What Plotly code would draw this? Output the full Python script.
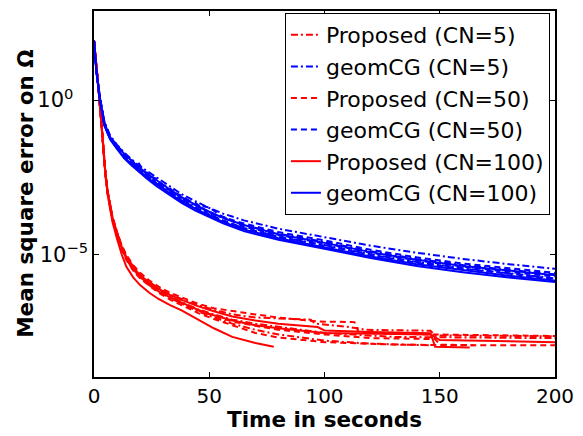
import plotly.graph_objects as go

# ---------------- data (log10 of mean square error) ----------------
BT = [0, 1, 2.5, 4.5, 7, 10, 13, 16, 19, 23, 27, 32, 38, 44, 50, 56, 65, 80, 100, 120, 140, 160, 180, 200]

geom_cn5_a = [1.93, 1.0, 0.12, -0.7, -1.15, -1.45, -1.7, -1.9, -2.1, -2.3, -2.5, -2.75, -3.05, -3.28, -3.5, -3.68, -3.9, -4.17, -4.45, -4.72, -4.95, -5.15, -5.32, -5.47]
geom_cn5_b = [1.93, 1.0, 0.1, -0.75, -1.2, -1.5, -1.75, -1.95, -2.2, -2.45, -2.65, -2.9, -3.2, -3.42, -3.63, -3.83, -4.05, -4.33, -4.6, -4.9, -5.15, -5.35, -5.5, -5.65]
geom_cn5_c = [1.93, 0.95, 0.05, -0.8, -1.25, -1.55, -1.8, -2.0, -2.2, -2.5, -2.7, -2.95, -3.25, -3.48, -3.72, -3.92, -4.15, -4.43, -4.7, -5.0, -5.25, -5.45, -5.62, -5.78]
geom_cn50_a = [1.93, 1.0, 0.1, -0.72, -1.18, -1.48, -1.7, -2.05, -2.0, -2.45, -2.55, -2.9, -3.1, -3.4, -3.48, -3.8, -4.0, -4.28, -4.55, -4.85, -5.1, -5.3, -5.45, -5.6]
geom_cn50_b = [1.93, 1.0, 0.08, -0.78, -1.22, -1.52, -1.78, -1.9, -2.25, -2.35, -2.7, -2.8, -3.2, -3.33, -3.68, -3.78, -4.1, -4.38, -4.65, -4.95, -5.2, -5.4, -5.57, -5.72]
geom_cn50_c = [1.93, 0.98, 0.06, -0.8, -1.25, -1.55, -1.82, -2.0, -2.2, -2.5, -2.7, -2.95, -3.25, -3.5, -3.7, -3.9, -4.15, -4.43, -4.72, -5.02, -5.27, -5.47, -5.63, -5.8]
geom_cn100_a = [1.93, 1.0, 0.1, -0.74, -1.2, -1.5, -1.73, -1.95, -2.15, -2.38, -2.6, -2.85, -3.15, -3.4, -3.62, -3.82, -4.05, -4.35, -4.63, -4.93, -5.18, -5.38, -5.53, -5.68]
geom_cn100_b = [1.93, 0.97, 0.05, -0.8, -1.25, -1.58, -1.85, -2.05, -2.25, -2.5, -2.72, -2.98, -3.28, -3.52, -3.75, -3.95, -4.2, -4.48, -4.77, -5.07, -5.32, -5.52, -5.7, -5.85]
geom_cn100_c = [1.93, 0.95, 0.02, -0.83, -1.28, -1.6, -1.88, -2.1, -2.3, -2.55, -2.78, -3.03, -3.33, -3.58, -3.8, -4.0, -4.25, -4.53, -4.82, -5.12, -5.38, -5.58, -5.75, -5.9]

RT = [0, 1, 2, 3, 4, 5, 6, 8, 10, 12, 14, 17, 20, 24, 28, 33, 38, 45, 52, 60]

prop_cn5_a_t = RT + [70, 80, 94, 96, 110, 118, 146, 148, 200]
prop_cn5_a = [1.93, 1.2, 0.35, -0.55, -1.6, -2.4, -3.0, -3.8, -4.3, -4.72, -5.05, -5.4, -5.65, -5.9, -6.1, -6.3, -6.45, -6.65, -6.8, -6.95,
              -7.05, -7.08, -7.12, -7.25, -7.35, -7.45, -7.48, -7.63, -7.66]
prop_cn5_b_t = RT + [70, 80, 100, 120, 146]
prop_cn5_b = [1.93, 1.18, 0.33, -0.58, -1.62, -2.42, -3.05, -3.85, -4.35, -4.8, -5.15, -5.5, -5.75, -6.0, -6.2, -6.42, -6.6, -6.85, -7.05, -7.25,
              -7.45, -7.6, -7.8, -7.9, -7.95]
prop_cn5_c_t = RT + [70, 80, 100, 130, 160, 200]
prop_cn5_c = [1.93, 1.2, 0.34, -0.56, -1.6, -2.4, -3.02, -3.82, -4.32, -4.77, -5.12, -5.47, -5.72, -5.97, -6.17, -6.38, -6.55, -6.78, -6.95, -7.12,
              -7.25, -7.35, -7.55, -7.68, -7.7, -7.72]
prop_cn50_a_t = RT + [70, 80, 97, 113, 115, 146, 200]
prop_cn50_a = [1.93, 1.22, 0.37, -0.52, -1.58, -2.38, -2.98, -3.78, -4.28, -4.7, -5.02, -5.35, -5.6, -5.85, -6.05, -6.25, -6.4, -6.6, -6.75, -6.85,
               -6.95, -7.05, -7.18, -7.2, -7.55, -7.6, -7.65]
prop_cn50_b_t = RT + [70, 80, 100, 130, 160, 200]
prop_cn50_b = [1.93, 1.17, 0.32, -0.6, -1.65, -2.45, -3.08, -3.88, -4.38, -4.83, -5.18, -5.53, -5.78, -6.03, -6.25, -6.47, -6.65, -6.9, -7.1, -7.3,
               -7.55, -7.7, -7.85, -7.93, -7.95, -7.95]
prop_cn50_c_t = RT + [70, 80, 100, 120, 148, 150, 165]
prop_cn50_c = [1.93, 1.19, 0.34, -0.57, -1.61, -2.41, -3.03, -3.83, -4.33, -4.78, -5.13, -5.48, -5.73, -5.98, -6.18, -6.4, -6.58, -6.82, -7.0, -7.18,
               -7.32, -7.45, -7.6, -7.72, -7.75, -7.93, -7.95]
prop_cn100_a_t = RT + [70, 78]
prop_cn100_a = [1.93, 1.18, 0.32, -0.6, -1.66, -2.48, -3.1, -3.95, -4.5, -5.0, -5.4, -5.75, -6.0, -6.25, -6.45, -6.65, -6.82, -7.1, -7.4, -7.68,
                -7.88, -8.0]
prop_cn100_b_t = RT + [70, 80, 97, 100, 120, 146, 148, 163]
prop_cn100_b = [1.93, 1.2, 0.35, -0.55, -1.6, -2.4, -3.0, -3.8, -4.3, -4.75, -5.08, -5.42, -5.68, -5.92, -6.12, -6.32, -6.48, -6.68, -6.85, -7.02,
                -7.15, -7.25, -7.36, -7.47, -7.52, -7.56, -8.0, -8.02]
prop_cn100_c_t = RT + [70, 80, 100, 146, 150, 200]
prop_cn100_c = [1.93, 1.19, 0.34, -0.57, -1.62, -2.43, -3.04, -3.84, -4.34, -4.79, -5.14, -5.49, -5.74, -5.99, -6.2, -6.4, -6.57, -6.8, -6.98, -7.15,
                -7.3, -7.4, -7.55, -7.6, -7.78, -7.85]

legend_names = ["Proposed (CN=5)", "geomCG (CN=5)", "Proposed (CN=50)",
                "geomCG (CN=50)", "Proposed (CN=100)", "geomCG (CN=100)"]
x_ticks = [0, 50, 100, 150, 200]
y_ticks = [1, 1e-5]
y_ticktext = ["10<sup>0\u2002\u2002</sup>", "10<sup>\u22125</sup>"]

# ---------------- figure ----------------
RED, BLUE = "#ff0000", "#0000ff"
DASHDOT = "7px,3px,2px,3px"
DASH = "6px,4px"

groups = [
    (legend_names[0], RED, DASHDOT, [(prop_cn5_a_t, prop_cn5_a), (prop_cn5_b_t, prop_cn5_b), (prop_cn5_c_t, prop_cn5_c)]),
    (legend_names[1], BLUE, DASHDOT, [(BT, geom_cn5_a), (BT, geom_cn5_b), (BT, geom_cn5_c)]),
    (legend_names[2], RED, DASH, [(prop_cn50_a_t, prop_cn50_a), (prop_cn50_b_t, prop_cn50_b), (prop_cn50_c_t, prop_cn50_c)]),
    (legend_names[3], BLUE, DASH, [(BT, geom_cn50_a), (BT, geom_cn50_b), (BT, geom_cn50_c)]),
    (legend_names[4], RED, "solid", [(prop_cn100_a_t, prop_cn100_a), (prop_cn100_b_t, prop_cn100_b), (prop_cn100_c_t, prop_cn100_c)]),
    (legend_names[5], BLUE, "solid", [(BT, geom_cn100_a), (BT, geom_cn100_b), (BT, geom_cn100_c)]),
]

fig = go.Figure()
for gi, (name, color, dash, runs) in enumerate(groups):
    for ri, (t, lv) in enumerate(runs):
        fig.add_trace(go.Scatter(
            x=t, y=[10 ** v for v in lv], mode="lines", name=name,
            legendgroup=name, showlegend=(ri == 0), legendrank=gi + 1,
            line=dict(color=color, width=2, dash=dash),
        ))

FONT = "DejaVu Sans, Liberation Sans, Arial, sans-serif"
fig.update_layout(
    width=583, height=436,
    margin=dict(l=94, r=23, t=9, b=59),
    paper_bgcolor="white", plot_bgcolor="white",
    font=dict(family=FONT, color="black", size=20),
    showlegend=True,
    legend=dict(
        x=0.989, y=0.9946, xanchor="right", yanchor="top",
        bgcolor="white", bordercolor="black", borderwidth=1,
        font=dict(family=FONT, size=22, color="black"),
        tracegroupgap=0, itemwidth=30,
    ),
    xaxis=dict(
        range=[0, 200], tickvals=x_ticks, ticks="inside", ticklen=5,
        tickcolor="black", showline=True, linecolor="black", linewidth=1.5,
        mirror="ticks", showgrid=False, zeroline=False,
        tickfont=dict(size=20, family=FONT),
    ),
    yaxis=dict(
        type="log", range=[-8.98, 2.89], tickvals=y_ticks, ticktext=y_ticktext,
        ticks="inside", ticklen=5, tickcolor="black", showline=True,
        linecolor="black", linewidth=1.5, mirror="ticks", showgrid=False,
        zeroline=False, tickfont=dict(size=21, family=FONT), ticklabelstandoff=0,
    ),
    annotations=[
        dict(text="<b>Time in seconds</b>", x=0.5, y=-0.117, xref="paper", yref="paper",
             xanchor="center", yanchor="middle", showarrow=False,
             font=dict(family=FONT, size=21.5, color="black")),
        dict(text="<b>Mean square error on \u03a9</b>", x=-0.150, y=0.5, xref="paper", yref="paper",
             xanchor="center", yanchor="middle", showarrow=False, textangle=-90,
             font=dict(family=FONT, size=21.5, color="black")),
    ],
)

# remove the browser's default 8px body margin so the figure fills the window
fig.write_html(
    "out.html",
    config={"displayModeBar": False},
    post_script="document.body.style.margin='0px';document.body.style.overflow='hidden';",
)
